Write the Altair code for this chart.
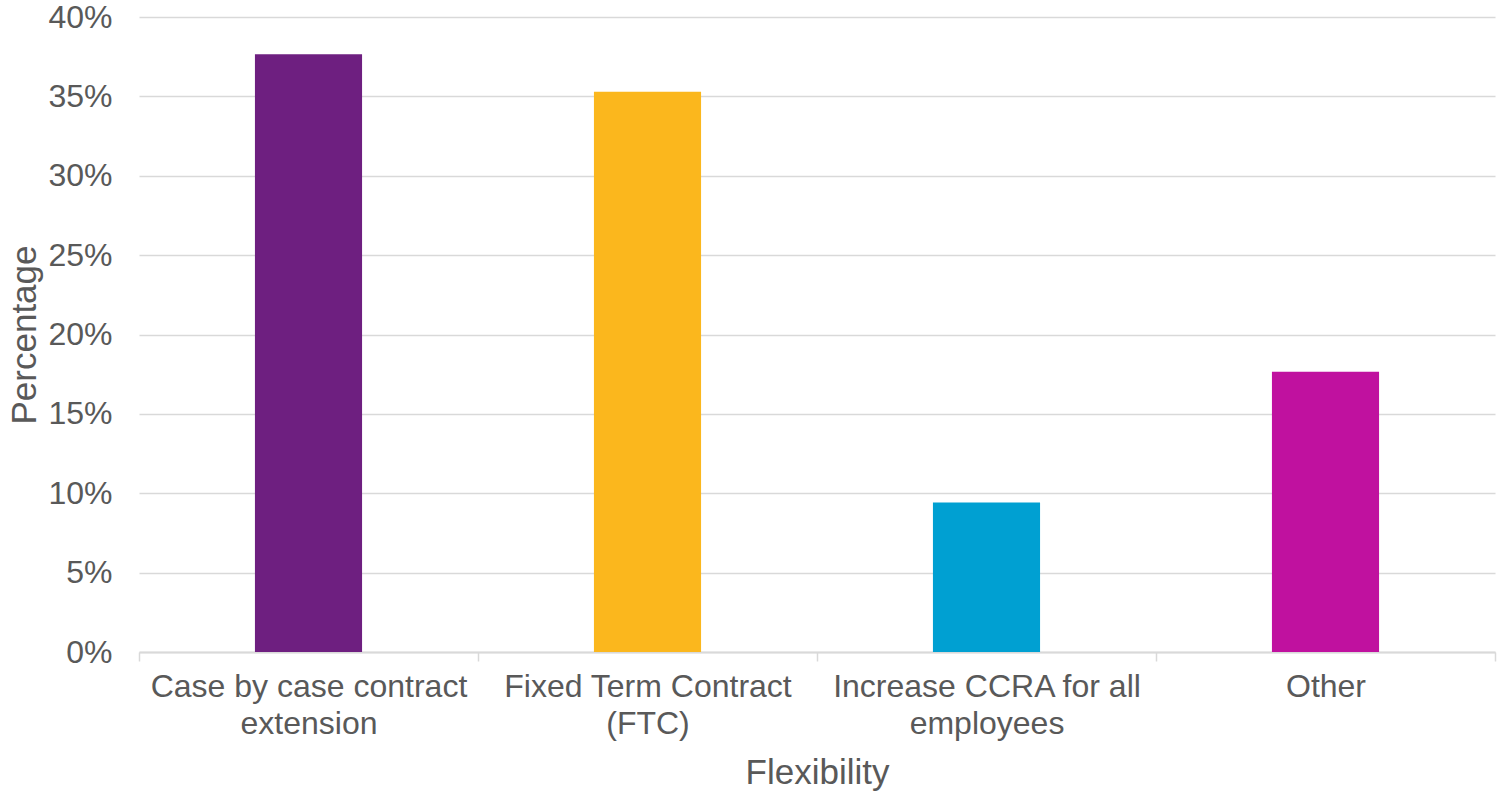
import altair as alt
import pandas as pd

# Survey responses: preferred form of flexibility (share of 85 respondents)
categories = [
    "Case by case contract\nextension",
    "Fixed Term Contract\n(FTC)",
    "Increase CCRA for all\nemployees",
    "Other",
]
shares = [32 / 85, 30 / 85, 8 / 85, 15 / 85]
colors = ["#6E1F80", "#FBB71D", "#00A0D2", "#C0119F"]

df = pd.DataFrame({"Flexibility": categories, "Percentage": shares})

FONT = "Liberation Sans"
TEXT = "#595959"
GRID = "#D9D9D9"

bars = (
    alt.Chart(df)
    .mark_bar(width=alt.RelativeBandSize(0.316))
    .encode(
        x=alt.X(
            "Flexibility:N",
            sort=categories,
            scale=alt.Scale(paddingInner=0, paddingOuter=0),
            axis=alt.Axis(
                title="Flexibility",
                labelAngle=0,
                labelExpr="split(datum.label, '\\n')",
                labelFont=FONT,
                labelFontSize=32,
                labelColor=TEXT,
                labelLineHeight=37,
                labelPadding=10,
                labelBaseline="top",
                labelLimit=400,
                tickBand="extent",
                tickColor=GRID,
                tickWidth=1.5,
                tickSize=9,
                domainColor=GRID,
                domainWidth=2,
                titleFont=FONT,
                titleFontSize=35,
                titleFontWeight="normal",
                titleColor=TEXT,
                titleBaseline="alphabetic",
                titleY=131,
            ),
        ),
        y=alt.Y(
            "Percentage:Q",
            scale=alt.Scale(domain=[0, 0.4], nice=False),
            axis=alt.Axis(
                title="Percentage",
                format=".0%",
                values=[0, 0.05, 0.1, 0.15, 0.2, 0.25, 0.3, 0.35, 0.4],
                labelFont=FONT,
                labelFontSize=32,
                labelColor=TEXT,
                labelPadding=27,
                ticks=False,
                tickSize=0,
                domain=False,
                grid=True,
                gridColor=GRID,
                gridWidth=1.5,
                titleFont=FONT,
                titleFontSize=35,
                titleFontWeight="normal",
                titleColor=TEXT,
                titleBaseline="alphabetic",
                titleX=-104,
            ),
        ),
        color=alt.Color(
            "Flexibility:N",
            sort=categories,
            scale=alt.Scale(domain=categories, range=colors),
            legend=None,
        ),
    )
)

chart = (
    bars.properties(
        width=1356,
        height=635,
        autosize=alt.AutoSizeParams(type="none"),
        padding={"left": 139, "top": 17, "right": 2, "bottom": 140},
        background="white",
    )
    .configure_view(stroke=None)
)

chart.save("out.html", embed_options={"renderer": "svg", "actions": False})
